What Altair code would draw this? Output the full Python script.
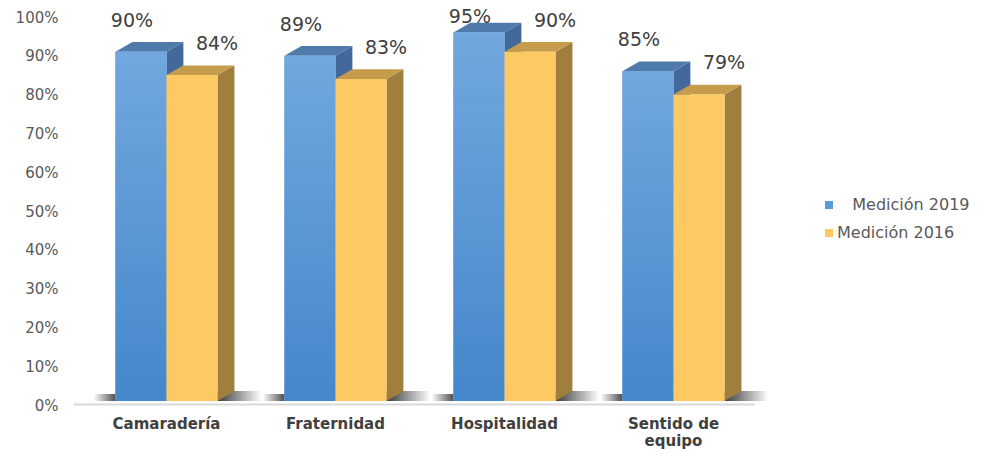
import altair as alt
import pandas as pd

# ---------------- data ----------------
categories = ["Camaradería", "Fraternidad", "Hospitalidad", "Sentido de equipo"]
series_names = ["Medición 2019", "Medición 2016"]
m2019 = [0.90, 0.89, 0.95, 0.85]
m2016 = [0.84, 0.83, 0.90, 0.79]
y_ticks = [0.0, 0.1, 0.2, 0.3, 0.4, 0.5, 0.6, 0.7, 0.8, 0.9, 1.0]

# ---------------- style ----------------
BAR_W = 0.302      # front face width (x units, one category = 1)
DEPTH_X = 0.10     # 3-D depth in x units
DEPTH_Y = 0.025    # 3-D rise in y units
FONT = "DejaVu Sans"
front_flat = ["#5B9BD5", "#FDC962"]
top_col = ["#4F7BAB", "#C59C4B"]
side_col = ["#42699A", "#A07F3E"]
label_dx = [-9, 25]

rows, side_rows, top_rows = [], [], []
for s, vals in enumerate([m2019, m2016]):
    for i, (c, v) in enumerate(zip(categories, vals)):
        xl = i + 0.5 - BAR_W + s * BAR_W
        xr = xl + BAR_W
        rows.append(dict(cat=c, idx=i, series=series_names[s], s=s, value=v, xl=xl, xr=xr))
        side_rows.append(dict(cat=c, s=s, x=xr, lo=0.0, hi=v))
        side_rows.append(dict(cat=c, s=s, x=xr + DEPTH_X, lo=DEPTH_Y, hi=v + DEPTH_Y))
        top_rows.append(dict(cat=c, s=s, y=v, x=xl, x2=xr))
        top_rows.append(dict(cat=c, s=s, y=v + DEPTH_Y, x=xl + DEPTH_X, x2=xr + DEPTH_X))

bars = pd.DataFrame(rows)
sides = pd.DataFrame(side_rows)
tops = pd.DataFrame(top_rows)
cats = pd.DataFrame({"cat": categories, "idx": list(range(len(categories)))})

xscale = alt.Scale(domain=[0, 4], nice=False, zero=False)
yscale = alt.Scale(domain=[0, 1], nice=False, zero=False)
yax = alt.Axis(values=y_ticks, format=".0%", title=None, grid=False, ticks=False,
               domain=False, labelPadding=24, labelOffset=4, labelFont=FONT,
               labelFontSize=15, labelColor="#595959")

color_enc = alt.Color(
    "series:N",
    scale=alt.Scale(domain=series_names, range=front_flat),
    legend=alt.Legend(
        title=None, orient="none", legendX=739, legendY=184, symbolType="square",
        symbolSize=64, symbolStrokeWidth=0, labelFont=FONT, labelFontSize=16,
        labelColor="#595959", labelOffset=0, rowPadding=12, padding=0,
        labelExpr="indexof(datum.label, '2019') >= 0 ? '\u200b\u00a0\u00a0\u00a0' + datum.label : datum.label",
    ),
)

layers = []

# floor line
floor = pd.DataFrame({"x": [-0.05], "x2": [3.98], "y": [-0.009]})
layers.append(
    alt.Chart(floor).mark_rule(color="#D9D9D9", strokeWidth=2).encode(
        x=alt.X("x:Q", scale=xscale, axis=None), x2="x2:Q",
        y=alt.Y("y:Q", scale=yscale, axis=yax))
)

# soft floor shadows
shadow_left = alt.Gradient(
    gradient="linear",
    stops=[alt.GradientStop(color="#FFFFFF", offset=0),
           alt.GradientStop(color="#505050", offset=1)],
    x1=0, x2=1, y1=0, y2=0,
)
shadow_right = alt.Gradient(
    gradient="linear",
    stops=[alt.GradientStop(color="#3A3A3A", offset=0),
           alt.GradientStop(color="#FFFFFF", offset=1)],
    x1=0, x2=1, y1=0, y2=0,
)
blue = bars[bars.s == 0]
yel = bars[bars.s == 1]
layers.append(
    alt.Chart(blue).transform_calculate(a="datum.xl - 0.13", b="datum.xl")
    .mark_rect(color=shadow_left).encode(
        x=alt.X("a:Q", scale=xscale, axis=None), x2="b:Q",
        y=alt.Y(datum=0.018, scale=yscale, axis=yax), y2=alt.datum(0.0))
)
layers.append(
    alt.Chart(yel).transform_calculate(a="datum.xr", b="datum.xr + 0.26")
    .mark_rect(color=shadow_right).encode(
        x=alt.X("a:Q", scale=xscale, axis=None), x2="b:Q",
        y=alt.Y(datum=0.026, scale=yscale, axis=yax), y2=alt.datum(0.0))
)

blue_grad = alt.Gradient(
    gradient="linear",
    stops=[alt.GradientStop(color="#71A7DE", offset=0),
           alt.GradientStop(color="#4487CB", offset=1)],
    x1=0, x2=0, y1=0, y2=1,
)

for s in [0, 1]:
    sd = sides[sides.s == s]
    td = tops[tops.s == s]
    bd = bars[bars.s == s]
    layers.append(
        alt.Chart(sd).mark_area(color=side_col[s]).encode(
            x=alt.X("x:Q", scale=xscale, axis=None),
            y=alt.Y("lo:Q", scale=yscale, axis=yax), y2="hi:Q", detail="cat:N")
    )
    layers.append(
        alt.Chart(td).mark_area(orient="horizontal", color=top_col[s]).encode(
            y=alt.Y("y:Q", scale=yscale, axis=yax),
            x=alt.X("x:Q", scale=xscale, axis=None), x2="x2:Q", detail="cat:N")
    )
    layers.append(
        alt.Chart(bd).mark_rect().encode(
            x=alt.X("xl:Q", scale=xscale, axis=None), x2="xr:Q",
            y=alt.Y("value:Q", scale=yscale, axis=yax), y2=alt.datum(0),
            color=color_enc)
    )
    if s == 0:
        layers.append(
            alt.Chart(bd).mark_rect(color=blue_grad).encode(
                x=alt.X("xl:Q", scale=xscale, axis=None), x2="xr:Q",
                y=alt.Y("value:Q", scale=yscale, axis=yax), y2=alt.datum(0))
        )

# value labels
for s in [0, 1]:
    bd = bars[bars.s == s]
    layers.append(
        alt.Chart(bd).transform_calculate(
            lx="(datum.xl + datum.xr) / 2",
            ly="min(datum.value + 0.08, 0.99)",
        ).mark_text(font=FONT, fontSize=19, color="#404040", dx=label_dx[s],
                    baseline="middle").encode(
            x=alt.X("lx:Q", scale=xscale, axis=None),
            y=alt.Y("ly:Q", scale=yscale, axis=yax),
            text=alt.Text("value:Q", format=".0%"))
    )

# category labels
layers.append(
    alt.Chart(cats).transform_calculate(
        cx="datum.idx + 0.5",
        label="replace(datum.cat, 'Sentido de ', 'Sentido de\\n')",
    ).mark_text(font=FONT, fontSize=15, fontWeight="bold", color="#404040",
                baseline="top", dy=16, lineBreak="\n", lineHeight=17).encode(
        x=alt.X("cx:Q", scale=xscale, axis=None),
        y=alt.Y(datum=0, scale=yscale, axis=yax),
        text="label:N")
)

chart = alt.layer(*layers).properties(
    width=676, height=388,
    autosize=alt.AutoSizeParams(type="none"),
    padding={"left": 82, "top": 13, "right": 234, "bottom": 52},
    background="white",
).configure_view(stroke=None)

chart.save("out.html", embed_options={"renderer": "svg", "actions": False})
